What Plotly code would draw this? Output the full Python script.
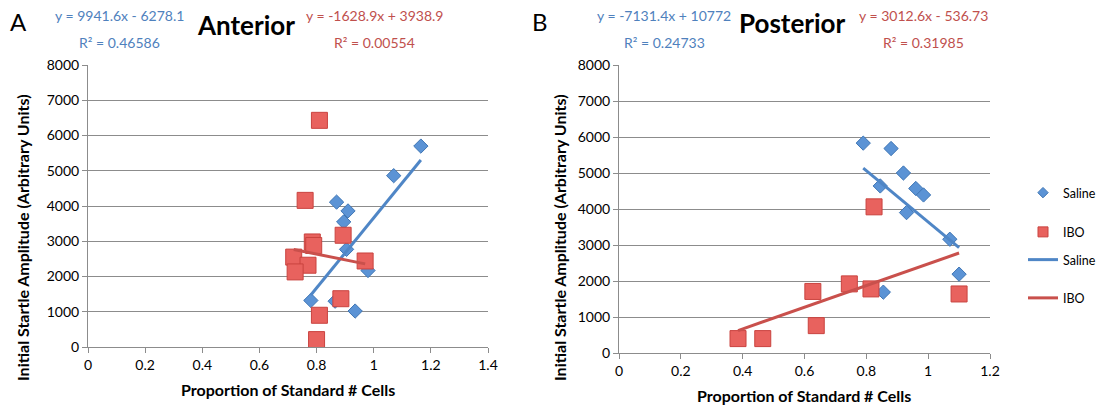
import numpy as np
import plotly.graph_objects as go

# ---------------- data ----------------
ant_saline_x = [1.165, 1.07, 0.87, 0.91, 0.895, 0.905, 0.98, 0.78, 0.865, 0.935]
ant_saline_y = [5700, 4860, 4110, 3860, 3550, 2770, 2170, 1320, 1300, 1020]
ant_ibo_x = [0.81, 0.76, 0.785, 0.79, 0.893, 0.72, 0.77, 0.725, 0.97, 0.885, 0.81, 0.80]
ant_ibo_y = [6430, 4160, 2980, 2880, 3170, 2550, 2320, 2130, 2440, 1370, 900, 210]

post_saline_x = [0.79, 0.88, 0.92, 0.845, 0.96, 0.985, 0.93, 1.07, 1.10, 0.855]
post_saline_y = [5830, 5680, 5000, 4640, 4570, 4390, 3900, 3160, 2190, 1690]
post_ibo_x = [0.825, 0.627, 0.745, 0.815, 0.638, 1.10, 0.385, 0.465]
post_ibo_y = [4060, 1710, 1920, 1780, 760, 1640, 400, 400]

# linear trend coefficients (slope, intercept) as printed on chart
ant_saline_fit = [9941.6, -6278.1]
ant_ibo_fit = [-1628.9, 3938.9]
post_saline_fit = [-7131.4, 10772]
post_ibo_fit = [3012.6, -536.73]

eq_texts = {
    "ant_saline": ["y = 9941.6x - 6278.1", "R² = 0.46586"],
    "ant_ibo": ["y = -1628.9x + 3938.9", "R² = 0.00554"],
    "post_saline": ["y = -7131.4x + 10772", "R² = 0.24733"],
    "post_ibo": ["y = 3012.6x - 536.73", "R² = 0.31985"],
}

panel_titles = ["Anterior", "Posterior"]
panel_letters = ["A", "B"]
x_title = "Proportion of Standard # Cells"
y_title = "Initial Startle Amplitude (Arbitrary Units)"
series_names = ["Saline", "IBO"]

# ---------------- style ----------------
OFF = 8                      # page body margin in the browser
W, H = 1104 - OFF, 413 - OFF
FONT = "Lato"
BLUE_FILL = "#5b93d5"
BLUE_EDGE = "#3f76b5"
BLUE_LINE = "#4f86c6"
BLUE_TEXT = "#4f81bd"
RED_FILL = "#e8625e"
RED_EDGE = "#c9433f"
RED_LINE = "#c9504c"
RED_TEXT = "#c0504d"
GRID = "#8c8c8c"


def px_x(p):
    return (p - OFF) / W


def px_y(p):
    return 1 - (p - OFF) / H


fig = go.Figure()

DIAMOND = dict(symbol="diamond", color=BLUE_FILL, line=dict(color=BLUE_EDGE, width=1))
SQUARE = dict(symbol="square", color=RED_FILL, line=dict(color=RED_EDGE, width=1))


def add_panel(sx, sy, ix, iy, sfit, ifit, xa, ya, legend):
    fig.add_trace(go.Scatter(
        x=sx, y=sy, mode="markers", name=series_names[0], xaxis=xa, yaxis=ya,
        marker=dict(size=11, **DIAMOND), showlegend=False))
    fig.add_trace(go.Scatter(
        x=ix, y=iy, mode="markers", name=series_names[1], xaxis=xa, yaxis=ya,
        marker=dict(size=16, **SQUARE), showlegend=False))
    lx = np.array([min(sx), max(sx)])
    fig.add_trace(go.Scatter(
        x=lx, y=sfit[0] * lx + sfit[1], mode="lines", name=series_names[0],
        xaxis=xa, yaxis=ya, line=dict(color=BLUE_LINE, width=3),
        showlegend=legend, legendgroup="g3", legend="legend2"))
    lx2 = np.array([min(ix), max(ix)])
    fig.add_trace(go.Scatter(
        x=lx2, y=ifit[0] * lx2 + ifit[1], mode="lines", name=series_names[1],
        xaxis=xa, yaxis=ya, line=dict(color=RED_LINE, width=3),
        showlegend=legend, legendgroup="g4", legend="legend2"))


add_panel(ant_saline_x, ant_saline_y, ant_ibo_x, ant_ibo_y,
          ant_saline_fit, ant_ibo_fit, "x", "y", False)
add_panel(post_saline_x, post_saline_y, post_ibo_x, post_ibo_y,
          post_saline_fit, post_ibo_fit, "x2", "y2", True)

# legend-only entries with smaller swatches (as in the reference legend)
fig.add_trace(go.Scatter(x=[None], y=[None], mode="markers", name=series_names[0],
                         xaxis="x2", yaxis="y2", marker=dict(size=8, **DIAMOND),
                         legendgroup="g1", legend="legend"))
fig.add_trace(go.Scatter(x=[None], y=[None], mode="markers", name=series_names[1],
                         xaxis="x2", yaxis="y2", marker=dict(size=10, **SQUARE),
                         legendgroup="g2", legend="legend"))

axis_common = dict(showline=True, linecolor=GRID, linewidth=1, ticks="outside",
                   ticklen=5, tickcolor=GRID, zeroline=False, automargin=False,
                   tickfont=dict(family=FONT, size=14, color="#000"))

legend_common = dict(xanchor="left", yanchor="top",
                     font=dict(family=FONT, size=12.5, color="#000"),
                     traceorder="grouped", bgcolor="rgba(0,0,0,0)")

fig.update_layout(
    width=W, height=H, margin=dict(l=0, r=0, t=0, b=0, autoexpand=False),
    paper_bgcolor="white", plot_bgcolor="white",
    font=dict(family=FONT, color="#000"),
    xaxis=dict(domain=[px_x(88), px_x(488)], range=[0, 1.4], dtick=0.2,
               showgrid=False, anchor="y", **axis_common),
    yaxis=dict(domain=[px_y(347), px_y(65)], range=[0, 8000], dtick=1000,
               tickformat="d", showgrid=True, gridcolor=GRID, gridwidth=1,
               anchor="x", **axis_common),
    xaxis2=dict(domain=[px_x(619), px_x(990)], range=[0, 1.2], dtick=0.2,
                showgrid=False, anchor="y2", **axis_common),
    yaxis2=dict(domain=[px_y(353), px_y(65)], range=[0, 8000], dtick=1000,
                tickformat="d", showgrid=True, gridcolor=GRID, gridwidth=1,
                anchor="x2", **axis_common),
    legend=dict(x=px_x(1023), y=px_y(178), tracegroupgap=20, **legend_common),
    legend2=dict(x=px_x(1023), y=px_y(245), tracegroupgap=19, **legend_common),
)

ann = []


def text(x, y, s, size, color="#000", bold=False, angle=0):
    ann.append(dict(x=px_x(x), y=px_y(y), xref="paper", yref="paper",
                    text=f"<b>{s}</b>" if bold else s, showarrow=False,
                    xanchor="center", yanchor="middle", textangle=angle,
                    font=dict(family=FONT, size=size, color=color)))


# panel letters
text(18, 22, panel_letters[0], 24)
text(540, 22, panel_letters[1], 24)
# titles
text(246, 25, panel_titles[0], 26, bold=True)
text(792, 23, panel_titles[1], 26, bold=True)
# equations
text(119, 16, eq_texts["ant_saline"][0], 14, BLUE_TEXT)
text(119, 43, eq_texts["ant_saline"][1], 14, BLUE_TEXT)
text(374, 16, eq_texts["ant_ibo"][0], 14, RED_TEXT)
text(374, 43, eq_texts["ant_ibo"][1], 14, RED_TEXT)
text(664, 16, eq_texts["post_saline"][0], 14, BLUE_TEXT)
text(664, 43, eq_texts["post_saline"][1], 14, BLUE_TEXT)
text(923, 16, eq_texts["post_ibo"][0], 14, RED_TEXT)
text(923, 43, eq_texts["post_ibo"][1], 14, RED_TEXT)
# axis titles
text(288, 389, x_title, 16, bold=True)
text(804, 395, x_title, 16, bold=True)
text(22, 238, y_title, 16, bold=True, angle=-90)
text(559, 238, y_title, 16, bold=True, angle=-90)

fig.update_layout(annotations=ann)
fig.write_html("out.html")
